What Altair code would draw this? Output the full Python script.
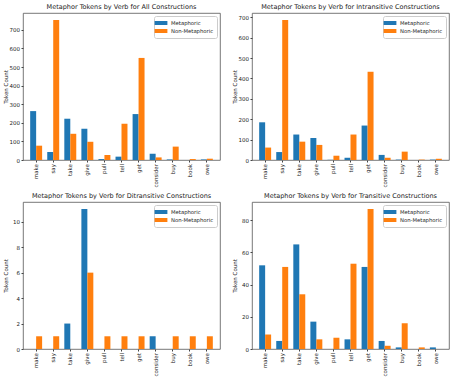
import altair as alt
import pandas as pd

verbs = ["make", "say", "take", "give", "pull", "tell", "get", "consider", "buy", "book", "owe"]
series_names = ["Metaphoric", "Non-Metaphoric"]

all_met = [263, 43, 222, 168, 5, 18, 247, 34, 3, 0, 3]
all_non = [77, 753, 141, 98, 27, 195, 549, 14, 72, 5, 7]

intr_met = [185, 39, 125, 108, 1, 11, 169, 25, 2, 0, 2]
intr_non = [61, 687, 90, 74, 21, 125, 433, 11, 41, 2, 6]

ditr_met = [0, 0, 2, 11, 0, 0, 0, 1, 0, 0, 0]
ditr_non = [1, 1, 0, 6, 1, 1, 1, 0, 1, 1, 1]

tran_met = [52, 5, 65, 17, 0, 6, 51, 5, 1, 0, 1]
tran_non = [9, 51, 34, 6, 7, 53, 87, 2, 16, 1, 0]

titles = [
    "Metaphor Tokens by Verb for All Constructions",
    "Metaphor Tokens by Verb for Intransitive Constructions",
    "Metaphor Tokens by Verb for Ditransitive Constructions",
    "Metaphor Tokens by Verb for Transitive Constructions",
]
ticks_all = [0, 100, 200, 300, 400, 500, 600, 700]
ticks_intr = [0, 100, 200, 300, 400, 500, 600, 700]
ticks_ditr = [0, 2, 4, 6, 8, 10]
ticks_tran = [0, 20, 40, 60, 80]

colors = ["#1f77b4", "#ff7f0e"]
FONT = "DejaVu Sans"


def panel(title, met, non, ticks):
    df = pd.DataFrame({
        "verb": verbs * 2,
        "type": [series_names[0]] * len(verbs) + [series_names[1]] * len(verbs),
        "count": met + non,
    })
    ymax = max(met + non) * 1.05
    return alt.Chart(df).mark_bar().encode(
        x=alt.X("verb:N", sort=verbs, title=None,
                scale=alt.Scale(paddingInner=0.3, paddingOuter=0.42),
                axis=alt.Axis(labelAngle=270, tickSize=2, labelPadding=1.5,
                              domain=False, tickColor="#444")),
        xOffset=alt.XOffset("type:N", sort=series_names),
        y=alt.Y("count:Q", title="Token Count",
                scale=alt.Scale(domain=[0, ymax], nice=False),
                axis=alt.Axis(values=ticks, tickSize=2, labelPadding=1.5,
                              domain=False, grid=False, tickColor="#444",
                              minExtent=12, maxExtent=12, titlePadding=3)),
        color=alt.Color("type:N", sort=series_names,
                        scale=alt.Scale(domain=series_names, range=colors),
                        legend=alt.Legend(title=None, orient="top-right", offset=3,
                                          fillColor="white", strokeColor="#cccccc",
                                          cornerRadius=2, padding=3,
                                          symbolType="M-1.6,-0.5H1.6V0.5H-1.6Z",
                                          symbolSize=64, symbolStrokeWidth=0,
                                          labelOffset=6, rowPadding=0,
                                          labelFont=FONT, labelFontSize=5.3,
                                          labelColor="#222")),
    ).properties(
        width=197, height=147,
        title=alt.TitleParams(title, font=FONT, fontSize=6.5, fontWeight="normal",
                              color="#222", offset=3),
    )


p1 = panel(titles[0], all_met, all_non, ticks_all)
p2 = panel(titles[1], intr_met, intr_non, ticks_intr)
p3 = panel(titles[2], ditr_met, ditr_non, ticks_ditr)
p4 = panel(titles[3], tran_met, tran_non, ticks_tran)

row1 = alt.hconcat(p1, p2, spacing=10).resolve_scale(color="independent", x="independent", y="independent")
row2 = alt.hconcat(p3, p4, spacing=10).resolve_scale(color="independent", x="independent", y="independent")

chart = alt.vconcat(
    row1, row2, spacing=4,
).resolve_scale(
    color="independent", x="independent", y="independent",
).properties(
    padding={"left": 2, "top": 3, "right": 0, "bottom": 0},
    background="white",
).configure_view(
    stroke="#555555", strokeWidth=0.8,
).configure_axis(
    labelFont=FONT, labelFontSize=5.5, labelColor="#222",
    titleFont=FONT, titleFontSize=5.5, titleFontWeight="normal", titleColor="#222",
)

chart.save("out.html", embed_options={"renderer": "svg", "actions": False})
